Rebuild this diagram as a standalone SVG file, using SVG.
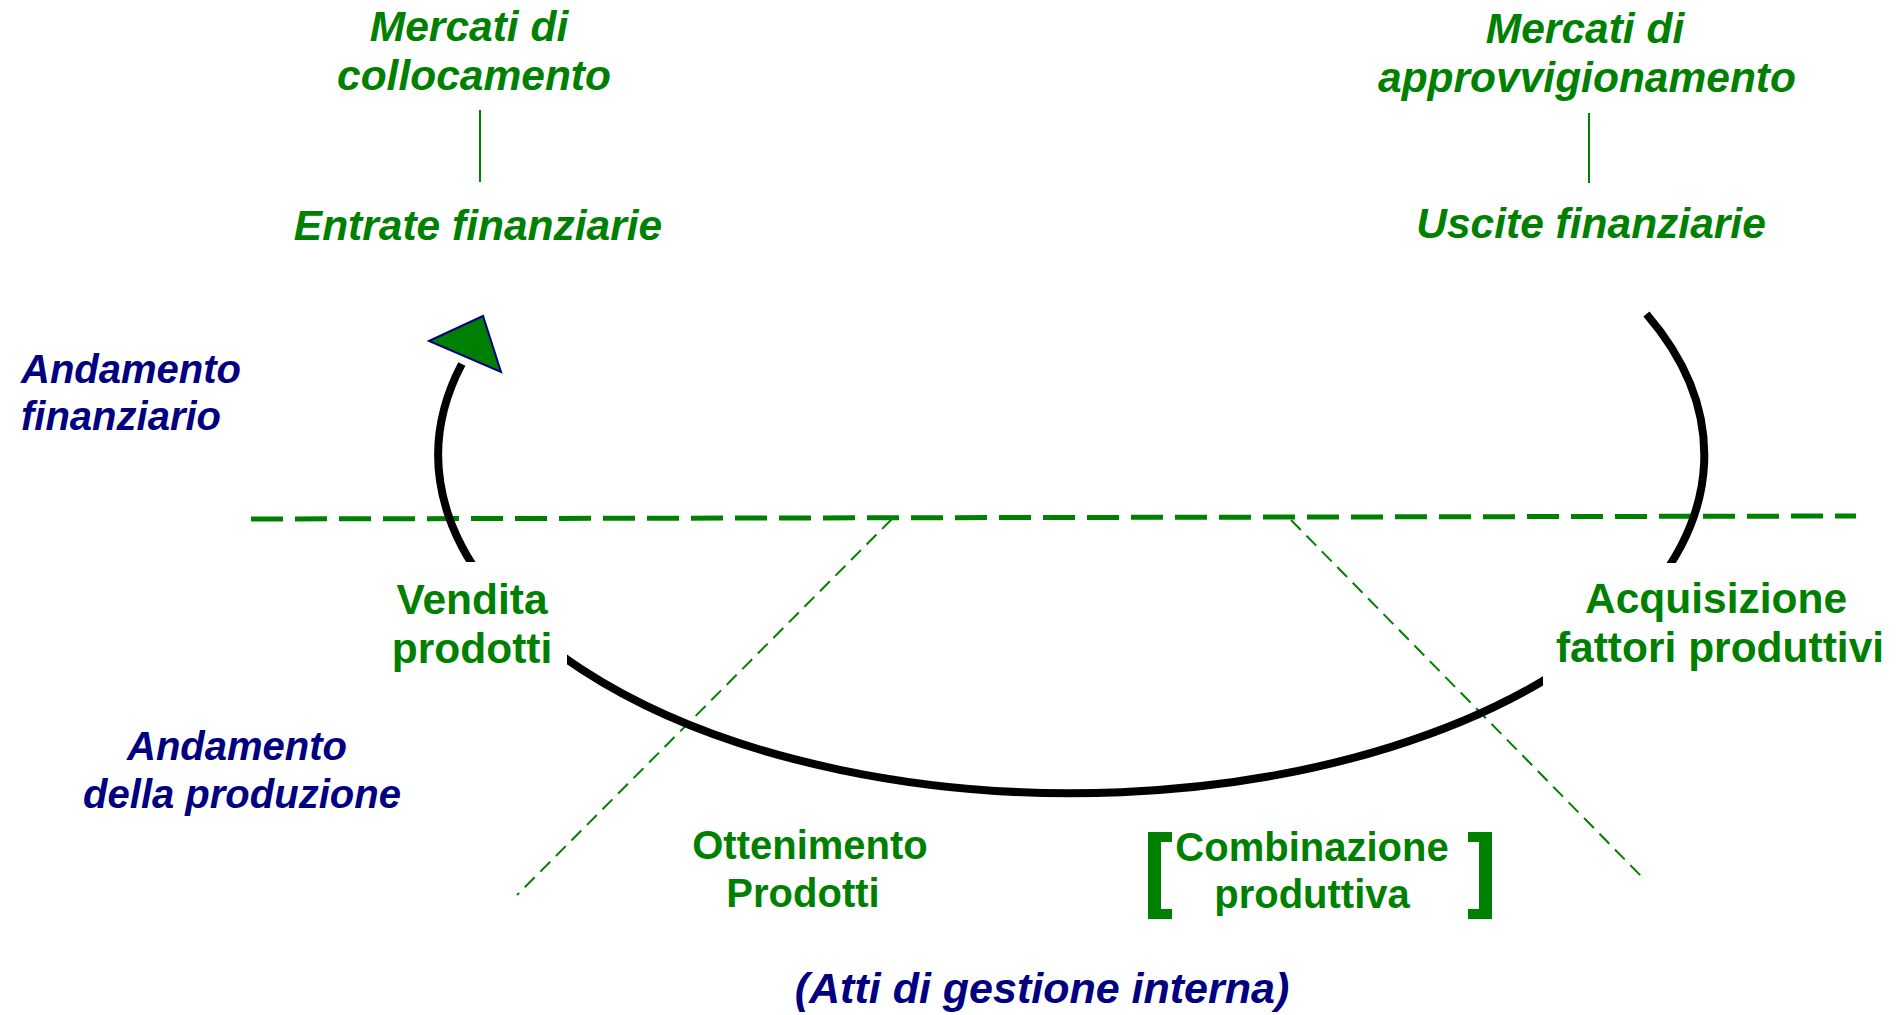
<svg xmlns="http://www.w3.org/2000/svg" width="1896" height="1015" viewBox="0 0 1896 1015">
<style>
  text { font-family: "Liberation Sans", Arial, sans-serif; font-weight: bold; text-anchor: middle; }
  .gi { fill: #008000; font-style: italic; font-size: 42.5px; }
  .g { fill: #008000; font-size: 42.5px; }
  .gb { fill: #008000; font-size: 40px; }
  .b { fill: #000080; font-style: italic; font-size: 40px; }
  .thin { stroke: #008000; stroke-width: 2; fill: none; }
  .diag { stroke: #008000; stroke-width: 2; stroke-dasharray: 14 8; fill: none; }
</style>
<defs>
  <clipPath id="boxes">
    <path clip-rule="evenodd" d="M0 0H1896V1015H0Z M370 562H567V700H370Z M1543 563H1896V700H1543Z"/>
  </clipPath>
</defs>
<rect width="1896" height="1015" fill="#ffffff"/>
<g id="connectors">
  <line class="thin" x1="480" y1="110" x2="480" y2="182"/>
  <line class="thin" x1="1589" y1="113" x2="1589" y2="183"/>
  <line x1="251" y1="519" x2="1856" y2="516" stroke="#008000" stroke-width="5" stroke-dasharray="32 12"/>
  <line class="diag" x1="892" y1="519" x2="517" y2="895"/>
  <line class="diag" x1="1291" y1="520" x2="1642" y2="877"/>
  <path clip-path="url(#boxes)" d="M1646.4 314 A633 338 0 1 1 461.8 364" fill="none" stroke="#000000" stroke-width="8"/>
  <polygon points="429,341 483,316 501,372" fill="#008000" stroke="#000080" stroke-width="2" stroke-linejoin="miter"/>
</g>
<g id="mercati-collocamento">
  <text class="gi" x="469" y="41">Mercati di</text>
  <text class="gi" x="474" y="90">collocamento</text>
</g>
<g id="entrate-finanziarie">
  <text class="gi" x="478" y="240">Entrate finanziarie</text>
</g>
<g id="mercati-approvvigionamento">
  <text class="gi" x="1585" y="43">Mercati di</text>
  <text class="gi" x="1587" y="92">approvvigionamento</text>
</g>
<g id="uscite-finanziarie">
  <text class="gi" x="1591" y="238">Uscite finanziarie</text>
</g>
<g id="andamento-finanziario">
  <text class="b" x="21" y="383" style="text-anchor:start">Andamento</text>
  <text class="b" x="21" y="430" style="text-anchor:start">finanziario</text>
</g>
<g id="andamento-produzione">
  <text class="b" x="237" y="760">Andamento</text>
  <text class="b" x="242" y="808">della produzione</text>
</g>
<g id="vendita-prodotti">
  <text class="g" x="472" y="614">Vendita</text>
  <text class="g" x="472" y="663">prodotti</text>
</g>
<g id="acquisizione-fattori">
  <text class="g" x="1716" y="613">Acquisizione</text>
  <text class="g" x="1720" y="662">fattori produttivi</text>
</g>
<g id="ottenimento-prodotti">
  <text class="gb" x="810" y="859">Ottenimento</text>
  <text class="gb" x="803" y="907">Prodotti</text>
</g>
<g id="combinazione-produttiva">
  <path d="M1148 832H1172V842H1161V909H1172V919H1148Z" fill="#008000"/>
  <path d="M1468 832H1492V919H1468V909H1479V842H1468Z" fill="#008000"/>
  <text class="gb" x="1312" y="861">Combinazione</text>
  <text class="gb" x="1312" y="908">produttiva</text>
</g>
<g id="atti-gestione">
  <text class="b" x="1042" y="1003" style="font-size:43px">(Atti di gestione interna)</text>
</g>
</svg>
